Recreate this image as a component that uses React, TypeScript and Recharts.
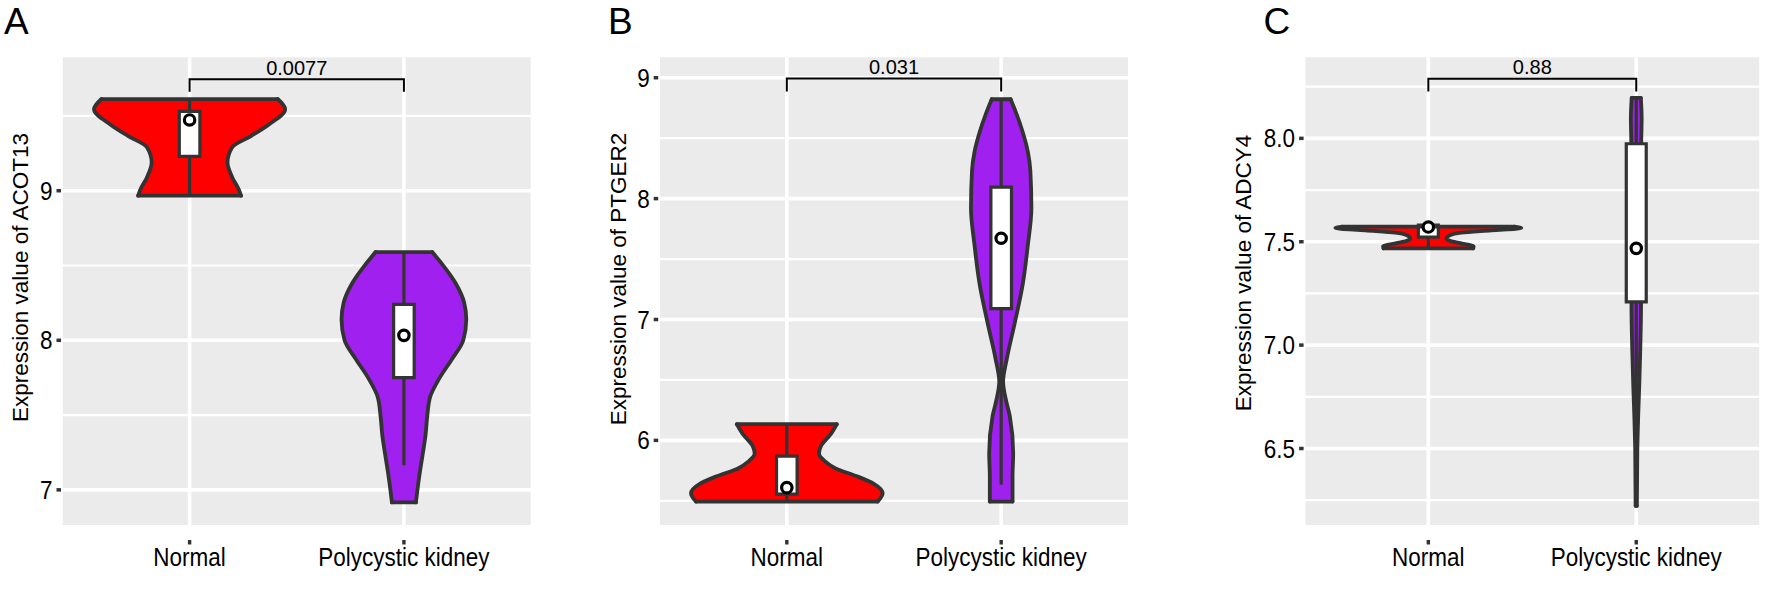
import React from "react";
import { ComposedChart, Area, Line, Scatter, XAxis, YAxis, CartesianGrid } from "recharts";

const FONT = '"Liberation Sans", Arial, Helvetica, sans-serif';
const OUTLINE = "#333333";

const groups = ["Normal", "Polycystic kidney"];
const groupPos = [1, 2];
const groupFill = ["#FF0000", "#A020F0"];

// A — ACOT13
const acotTicks = [7, 8, 9];
const acotMinor = [7.5, 8.5, 9.5];
const acotDomain = [6.765, 9.892];
const acotNormalLevels = [8.967, 9.013, 9.089, 9.19, 9.291, 9.367, 9.44, 9.545, 9.613];
const acotNormalHalf = [0.24, 0.228, 0.199, 0.177, 0.199, 0.288, 0.367, 0.446, 0.411];
const acotKidneyLevels = [6.916, 6.987, 7.114, 7.241, 7.367, 7.494, 7.62, 7.747, 7.873, 8.0, 8.139, 8.253, 8.38, 8.506, 8.59];
const acotKidneyHalf = [0.056, 0.062, 0.074, 0.088, 0.101, 0.109, 0.122, 0.166, 0.224, 0.277, 0.291, 0.281, 0.242, 0.18, 0.132];
const acotWhiskerLow = [8.967, 7.165];
const acotWhiskerHigh = [9.613, 8.59];
const acotQ1 = [9.23, 7.75];
const acotQ3 = [9.53, 8.24];
const acotMean = [9.473, 8.033];
const acotBracket = [9.662, 9.745];

// B — PTGER2
const ptgTicks = [6, 7, 8, 9];
const ptgMinor = [5.5, 6.5, 7.5, 8.5];
const ptgDomain = [5.3, 9.169];
const ptgNormalLevels = [5.494, 5.563, 5.641, 5.703, 5.766, 5.828, 5.891, 5.953, 6.047, 6.134];
const ptgNormalHalf = [0.424, 0.447, 0.406, 0.327, 0.23, 0.177, 0.15, 0.159, 0.203, 0.233];
const ptgKidneyLevels = [5.494, 5.703, 5.891, 6.203, 6.328, 6.484, 6.672, 6.984, 7.297, 7.609, 7.922, 8.234, 8.391, 8.547, 8.703, 8.822];
const ptgKidneyHalf = [0.053, 0.053, 0.056, 0.04, 0.023, 0.009, 0.026, 0.065, 0.101, 0.124, 0.141, 0.136, 0.124, 0.101, 0.071, 0.044];
const ptgWhiskerLow = [5.494, 5.634];
const ptgWhiskerHigh = [6.134, 8.822];
const ptgQ1 = [5.555, 7.09];
const ptgQ3 = [5.87, 8.095];
const ptgMean = [5.609, 7.672];
const ptgBracket = [8.887, 8.994];

// C — ADCY4
const adcyTicks = [6.5, 7.0, 7.5, 8.0];
const adcyMinor = [6.25, 6.75, 7.25, 7.75, 8.25];
const adcyDomain = [6.13, 8.392];
const adcyNormalLevels = [7.468, 7.478, 7.489, 7.502, 7.515, 7.531, 7.544, 7.555, 7.566, 7.573];
const adcyNormalHalf = [0.215, 0.218, 0.175, 0.111, 0.087, 0.103, 0.159, 0.303, 0.447, 0.415];
const adcyKidneyLevels = [6.223, 6.485, 6.646, 6.807, 6.968, 7.194, 7.6, 7.981, 8.097, 8.196];
const adcyKidneyHalf = [0.003, 0.005, 0.009, 0.0145, 0.019, 0.023, 0.023, 0.024, 0.026, 0.022];
const adcyWhiskerLow = [7.468, 6.223];
const adcyWhiskerHigh = [7.573, 8.196];
const adcyQ1 = [7.522, 7.209];
const adcyQ3 = [7.58, 7.974];
const adcyMean = [7.571, 7.468];
const adcyBracket = [8.227, 8.288];

const BOX_HALF = 0.048;

const band = (c: number, levels: number[], half: number[]) =>
  levels.map((y, i) => ({ y, band: [c - half[i], c + half[i]] }));
const hline = (c: number, y: number, h: number) => [{ x: c - h, y }, { x: c + h, y }];
const vline = (c: number, y0: number, y1: number) => [{ x: c, y: y0 }, { x: c, y: y1 }];
const rectPath = (c: number, y0: number, y1: number, h: number) => [
  { x: c - h, y: y0 }, { x: c - h, y: y1 }, { x: c + h, y: y1 }, { x: c + h, y: y0 }, { x: c - h, y: y0 },
];

const panels = [
  {
    id: "A", gene: "ACOT13", p: "0.0077", left: 0, width: 545, yWidth: 61, right: 12.5,
    titleX: 27.5, titleY: 277.5, fmt: (v: number) => String(v),
    ticks: acotTicks, minor: acotMinor, domain: acotDomain,
    levels: [acotNormalLevels, acotKidneyLevels], half: [acotNormalHalf, acotKidneyHalf],
    wLow: acotWhiskerLow, wHigh: acotWhiskerHigh, q1: acotQ1, q3: acotQ3, mean: acotMean, bracket: acotBracket,
  },
  {
    id: "B", gene: "PTGER2", p: "0.031", left: 590, width: 545, yWidth: 68.2, right: 5.2,
    titleX: 35.5, titleY: 279, fmt: (v: number) => String(v),
    ticks: ptgTicks, minor: ptgMinor, domain: ptgDomain,
    levels: [ptgNormalLevels, ptgKidneyLevels], half: [ptgNormalHalf, ptgKidneyHalf],
    wLow: ptgWhiskerLow, wHigh: ptgWhiskerHigh, q1: ptgQ1, q3: ptgQ3, mean: ptgMean, bracket: ptgBracket,
  },
  {
    id: "C", gene: "ADCY4", p: "0.88", left: 1180, width: 593, yWidth: 123.6, right: 12,
    titleX: 71, titleY: 273, fmt: (v: number) => v.toFixed(1),
    ticks: adcyTicks, minor: adcyMinor, domain: adcyDomain,
    levels: [adcyNormalLevels, adcyKidneyLevels], half: [adcyNormalHalf, adcyKidneyHalf],
    wLow: adcyWhiskerLow, wHigh: adcyWhiskerHigh, q1: adcyQ1, q3: adcyQ3, mean: adcyMean, bracket: adcyBracket,
  },
];

// tick labels in the figure are slightly taller than their width suggests
const XTick = (props: any) => {
  const { x, y, payload } = props;
  return (
    <g>
      <rect x={x - 1.7} y={y + 15} width={3.4} height={4.5} fill={OUTLINE} />
      <text transform={`translate(${x},${y + 41}) scale(1,1.12)`} textAnchor="middle" fontSize={22.5} fontFamily={FONT} fill="#000">
        {groups[payload.value - 1]}
      </text>
    </g>
  );
};

const makeYTick = (fmt: (v: number) => string) => (props: any) => {
  const { x, y, payload } = props;
  return (
    <text transform={`translate(${x},${y}) scale(1,1.12)`} dy="0.36em" textAnchor="end" fontSize={22.5} fontFamily={FONT} fill="#000">
      {fmt(payload.value)}
    </text>
  );
};

function Panel({ p }: { p: (typeof panels)[number] }) {
  const lineProps = { dataKey: "x", dot: false, activeDot: false, isAnimationActive: false, type: "linear" as const };
  return (
    <div style={{ position: "absolute", left: p.left, top: 0 }}>
      <ComposedChart layout="vertical" width={p.width} height={595} margin={{ top: 57.3, right: p.right, bottom: 0, left: 0 }}>
        <CartesianGrid fill="#EBEBEB" stroke="#FFFFFF" strokeWidth={2.2} vertical={false} horizontalValues={p.minor} />
        <CartesianGrid stroke="#FFFFFF" strokeWidth={3.6} horizontalValues={p.ticks} />
        <XAxis
          type="number" dataKey="x" domain={[0.4, 2.6]} ticks={groupPos} allowDataOverflow interval={0}
          height={70} axisLine={false} tickLine={false} tickSize={0} tickMargin={0} tick={<XTick />}
        />
        <YAxis
          type="number" dataKey="y" domain={p.domain} ticks={p.ticks} allowDataOverflow interval={0} reversed
          width={p.yWidth} axisLine={false} tickSize={4.5} tickMargin={4}
          tickLine={{ stroke: OUTLINE, strokeWidth: 3.5 }}
          tick={makeYTick(p.fmt)}
          label={{
            content: () => (
              <text x={p.titleX} y={p.titleY} transform={`rotate(-90 ${p.titleX} ${p.titleY})`}
                textAnchor="middle" fontSize={22.5} fontFamily={FONT} fill="#000">
                {`Expression value of ${p.gene}`}
              </text>
            ),
          }}
        />
        {groupPos.map((c, g) => (
          <Area
            key={`v${g}`} data={band(c, p.levels[g], p.half[g])} dataKey="band" type="monotone"
            fill={groupFill[g]} fillOpacity={1} stroke={OUTLINE} strokeWidth={3.8} strokeLinecap="round"
            dot={false} activeDot={false} isAnimationActive={false}
          />
        ))}
        {groupPos.map((c, g) => (
          <Line key={`vb${g}`} {...lineProps} data={hline(c, p.levels[g][0], p.half[g][0])}
            stroke={OUTLINE} strokeWidth={3.8} strokeLinecap="round" />
        ))}
        {groupPos.map((c, g) => {
          const n = p.levels[g].length - 1;
          return (
            <Line key={`vt${g}`} {...lineProps} data={hline(c, p.levels[g][n], p.half[g][n])}
              stroke={OUTLINE} strokeWidth={3.8} strokeLinecap="round" />
          );
        })}
        {groupPos.map((c, g) => (
          <Line key={`wl${g}`} {...lineProps} data={vline(c, p.wLow[g], p.q1[g])} stroke={OUTLINE} strokeWidth={3.2} />
        ))}
        {groupPos.map((c, g) => (
          <Line key={`wh${g}`} {...lineProps} data={vline(c, p.q3[g], p.wHigh[g])} stroke={OUTLINE} strokeWidth={3.2} />
        ))}
        {groupPos.map((c, g) => (
          <Area
            key={`bf${g}`} data={[{ y: p.q1[g], band: [c - BOX_HALF, c + BOX_HALF] }, { y: p.q3[g], band: [c - BOX_HALF, c + BOX_HALF] }]}
            dataKey="band" type="linear" fill="#FFFFFF" fillOpacity={1} stroke="none"
            dot={false} activeDot={false} isAnimationActive={false}
          />
        ))}
        {groupPos.map((c, g) => (
          <Line key={`bo${g}`} {...lineProps} data={rectPath(c, p.q1[g], p.q3[g], BOX_HALF)}
            stroke={OUTLINE} strokeWidth={3.2} strokeLinecap="square" strokeLinejoin="miter" />
        ))}
        <Line {...lineProps} data={[
          { x: groupPos[0], y: p.bracket[0] }, { x: groupPos[0], y: p.bracket[1] },
          { x: groupPos[1], y: p.bracket[1] }, { x: groupPos[1], y: p.bracket[0] },
        ]} stroke="#000" strokeWidth={2} />
        <Scatter
          data={groupPos.map((c, g) => ({ x: c, y: p.mean[g] }))} isAnimationActive={false}
          shape={(s: any) => <circle cx={s.cx} cy={s.cy} r={5.2} fill="#FFFFFF" stroke="#000" strokeWidth={3.2} />}
        />
        <Scatter
          data={[{ x: (groupPos[0] + groupPos[1]) / 2, y: p.bracket[1] }]} isAnimationActive={false}
          shape={(s: any) => (
            <text x={s.cx} y={s.cy - 4.6} textAnchor="middle" fontSize={20} fontFamily={FONT} fill="#000">{p.p}</text>
          )}
        />
      </ComposedChart>
    </div>
  );
}

export default function App() {
  return (
    <div style={{ position: "absolute", left: 0, top: 0, width: 1773, height: 595, background: "#FFFFFF", overflow: "hidden" }}>
      {panels.map((p) => <Panel key={p.id} p={p} />)}
      <svg width={1773} height={595} style={{ position: "absolute", left: 0, top: 0, pointerEvents: "none" }}>
        <text x={4} y={34} fontSize={37} fontFamily={FONT} fill="#000">A</text>
        <text x={608} y={34} fontSize={37} fontFamily={FONT} fill="#000">B</text>
        <text x={1263.5} y={34} fontSize={37} fontFamily={FONT} fill="#000">C</text>
      </svg>
    </div>
  );
}
